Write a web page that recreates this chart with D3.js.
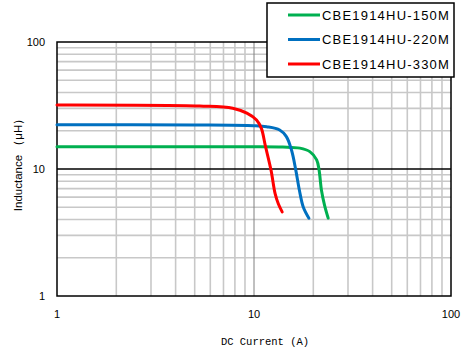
<!DOCTYPE html>
<html>
<head>
<meta charset="utf-8">
<script src="https://cdn.jsdelivr.net/npm/d3@7"></script>
<style>
  body { margin: 0; background: #fff; }
  text { font-family: "Liberation Sans", Arial, sans-serif; fill: #000; }
</style>
</head>
<body>
<svg id="chart" width="471" height="353"></svg>
<script>
// --- data ---
var seriesNames = ['CBE1914HU-150M', 'CBE1914HU-220M', 'CBE1914HU-330M'];
var seriesColors = ['#00b050', '#0070c0', '#ff0000'];

var current150 = [1, 5, 10, 14, 17.1, 19.2, 20.8, 21.4, 22.0, 22.8, 23.8];
var induct150  = [15.0, 15.0, 15.0, 14.9, 14.6, 13.7, 11.8, 9.8, 6.8, 5.2, 4.1];

var current220 = [1, 5, 10, 11.6, 13.5, 14.6, 15.5, 16.3, 17.0, 17.8, 19.0];
var induct220  = [22.3, 22.2, 21.9, 21.5, 20.3, 18.0, 14.1, 9.8, 6.8, 5.0, 4.1];

var current330 = [1, 5.3, 7.8, 9.2, 10.3, 10.9, 11.4, 12.2, 12.8, 13.3, 13.9];
var induct330  = [31.9, 31.3, 30.1, 27.5, 24.3, 20.9, 15.4, 9.8, 6.4, 5.3, 4.6];

var xTicks = [1, 10, 100];
var yTicks = [1, 10, 100];

var allSeries = [
  d3.zip(current150, induct150),
  d3.zip(current220, induct220),
  d3.zip(current330, induct330)
];

// --- layout ---
var svg = d3.select('#chart');
var plotL = 57, plotR = 451, plotT = 42, plotB = 296;

var x = d3.scaleLog().domain([1, 100]).range([plotL, plotR]);
var y = d3.scaleLog().domain([1, 100]).range([plotB, plotT]);

// minor grid values 2..9, 20..90
var minor = [];
[1, 10].forEach(function(d) {
  for (var k = 2; k <= 9; k++) minor.push(d * k);
});

var grid = svg.append('g');
grid.selectAll('line.vx').data(minor).enter().append('line')
  .attr('x1', function(d) { return x(d); }).attr('x2', function(d) { return x(d); })
  .attr('y1', plotT).attr('y2', plotB)
  .attr('stroke', '#c8c8c8').attr('stroke-width', 1.6);
grid.selectAll('line.hy').data(minor).enter().append('line')
  .attr('y1', function(d) { return y(d); }).attr('y2', function(d) { return y(d); })
  .attr('x1', plotL).attr('x2', plotR)
  .attr('stroke', '#c8c8c8').attr('stroke-width', 1.6);

// major lines at 10
grid.append('line')
  .attr('x1', x(10)).attr('x2', x(10)).attr('y1', plotT).attr('y2', plotB)
  .attr('stroke', '#808080').attr('stroke-width', 1);
grid.append('line')
  .attr('y1', y(10)).attr('y2', y(10)).attr('x1', plotL).attr('x2', plotR)
  .attr('stroke', '#000').attr('stroke-width', 1.5);

// plot border
svg.append('rect')
  .attr('x', plotL).attr('y', plotT)
  .attr('width', plotR - plotL).attr('height', plotB - plotT)
  .attr('fill', 'none').attr('stroke', '#000').attr('stroke-width', 1.5);

// curves
var line = d3.line()
  .x(function(d) { return x(d[0]); })
  .y(function(d) { return y(d[1]); })
  .curve(d3.curveCatmullRom.alpha(0.5));

svg.append('g').selectAll('path').data(allSeries).enter().append('path')
  .attr('d', line)
  .attr('fill', 'none')
  .attr('stroke', function(d, i) { return seriesColors[i]; })
  .attr('stroke-width', 3)
  .attr('stroke-linecap', 'round');

// tick labels
svg.append('g').selectAll('text').data(xTicks).enter().append('text')
  .attr('x', function(d) { return x(d); })
  .attr('y', 318)
  .attr('text-anchor', 'middle')
  .style('font-size', '11px')
  .text(function(d) { return d; });

svg.append('g').selectAll('text').data(yTicks).enter().append('text')
  .attr('x', 45)
  .attr('y', function(d) { return y(d) + 4; })
  .attr('text-anchor', 'end')
  .style('font-size', '11px')
  .text(function(d) { return d; });

// axis titles
svg.append('text')
  .attr('x', 265).attr('y', 345)
  .attr('text-anchor', 'middle')
  .style('font-family', '"Liberation Mono", monospace')
  .style('font-size', '10.5px')
  .text('DC Current (A)');

svg.append('text')
  .attr('transform', 'translate(22,162) rotate(-90)')
  .attr('text-anchor', 'middle')
  .style('font-size', '11.5px')
  .text('Inductance （μH）');

// legend
var lg = svg.append('g');
lg.append('rect')
  .attr('x', 267).attr('y', 3).attr('width', 187).attr('height', 74)
  .attr('fill', '#fff').attr('stroke', '#000').attr('stroke-width', 1.5);

var rows = lg.selectAll('g.row').data(seriesNames).enter().append('g')
  .attr('transform', function(d, i) { return 'translate(0,' + (15 + i * 24.5) + ')'; });
rows.append('line')
  .attr('x1', 288).attr('x2', 320).attr('y1', 0).attr('y2', 0)
  .attr('stroke', function(d, i) { return seriesColors[i]; })
  .attr('stroke-width', 3);
rows.append('text')
  .attr('x', 322).attr('y', 4.5)
  .style('font-size', '13px')
  .style('letter-spacing', '1.2px')
  .text(function(d) { return d; });
</script>
</body>
</html>
